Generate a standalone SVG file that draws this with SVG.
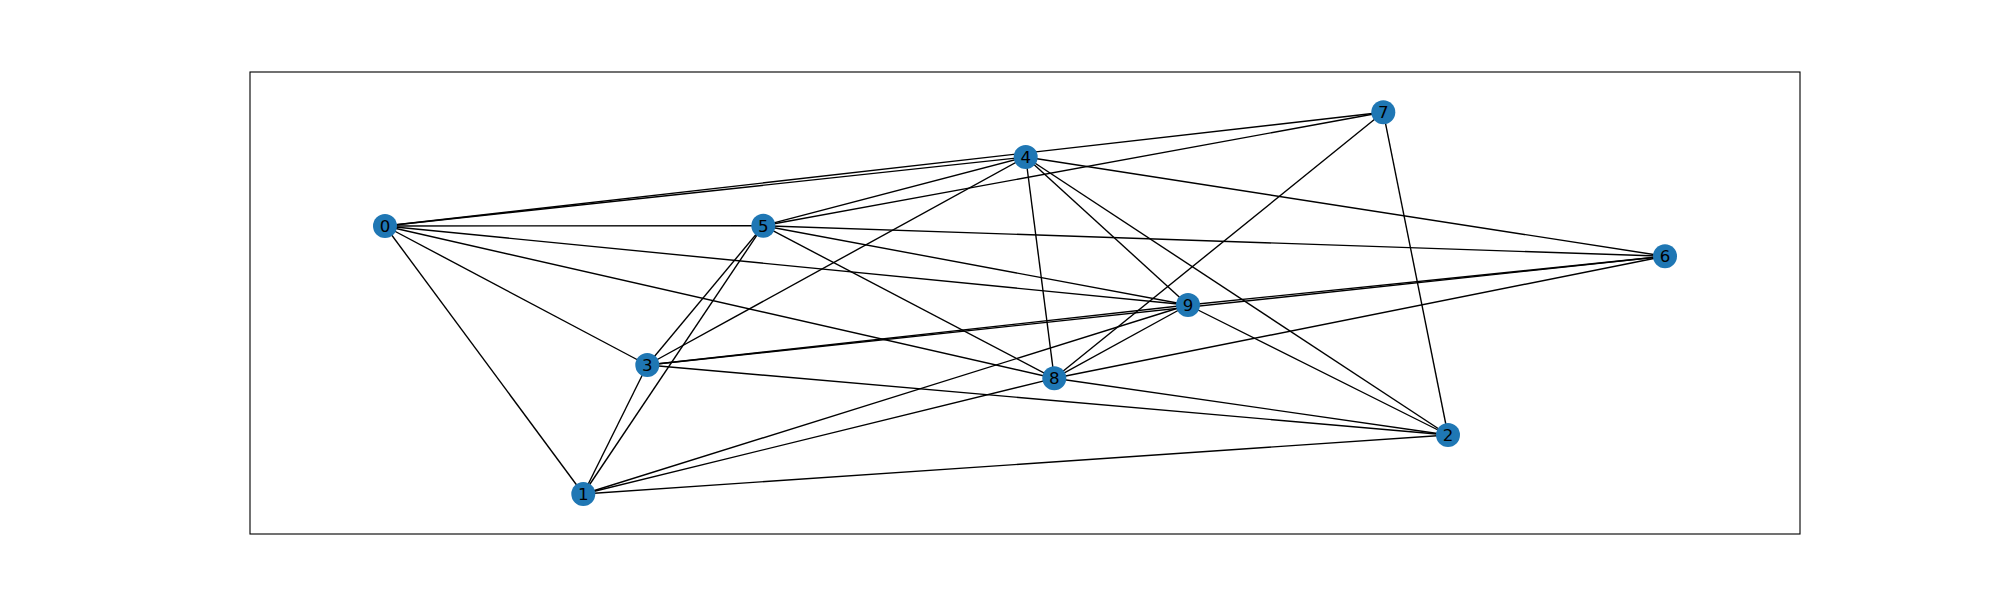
<svg xmlns="http://www.w3.org/2000/svg" width="2000" height="600" viewBox="0 0 2000 600">
<style>
.e{stroke:#000;stroke-width:1.39;fill:none}
.n circle{fill:#1f77b4}
.n text{font-family:"DejaVu Sans",sans-serif;font-size:16.67px;fill:#000;text-anchor:middle}
</style>
<rect x="0" y="0" width="2000" height="600" fill="#fff"/>
<rect x="250" y="72" width="1550" height="462" fill="none" stroke="#000" stroke-width="1.11"/>
<g id="edges">
<line class="e" x1="385" y1="226" x2="583.3" y2="494"/>
<line class="e" x1="385" y1="226" x2="647.3" y2="365"/>
<line class="e" x1="385" y1="226" x2="1025.7" y2="157"/>
<line class="e" x1="385" y1="226" x2="763.3" y2="225.7"/>
<line class="e" x1="385" y1="226" x2="1383.3" y2="112.3"/>
<line class="e" x1="385" y1="226" x2="1054.3" y2="378.3"/>
<line class="e" x1="385" y1="226" x2="1188" y2="305"/>
<line class="e" x1="583.3" y1="494" x2="1448" y2="435"/>
<line class="e" x1="583.3" y1="494" x2="647.3" y2="365"/>
<line class="e" x1="583.3" y1="494" x2="763.3" y2="225.7"/>
<line class="e" x1="583.3" y1="494" x2="1054.3" y2="378.3"/>
<line class="e" x1="583.3" y1="494" x2="1188" y2="305"/>
<line class="e" x1="1448" y1="435" x2="647.3" y2="365"/>
<line class="e" x1="1448" y1="435" x2="1025.7" y2="157"/>
<line class="e" x1="1448" y1="435" x2="1383.3" y2="112.3"/>
<line class="e" x1="1448" y1="435" x2="1054.3" y2="378.3"/>
<line class="e" x1="1448" y1="435" x2="1188" y2="305"/>
<line class="e" x1="647.3" y1="365" x2="1025.7" y2="157"/>
<line class="e" x1="647.3" y1="365" x2="763.3" y2="225.7"/>
<line class="e" x1="647.3" y1="365" x2="1665" y2="256.3"/>
<line class="e" x1="647.3" y1="365" x2="1188" y2="305"/>
<line class="e" x1="1025.7" y1="157" x2="763.3" y2="225.7"/>
<line class="e" x1="1025.7" y1="157" x2="1665" y2="256.3"/>
<line class="e" x1="1025.7" y1="157" x2="1054.3" y2="378.3"/>
<line class="e" x1="1025.7" y1="157" x2="1188" y2="305"/>
<line class="e" x1="763.3" y1="225.7" x2="1665" y2="256.3"/>
<line class="e" x1="763.3" y1="225.7" x2="1383.3" y2="112.3"/>
<line class="e" x1="763.3" y1="225.7" x2="1054.3" y2="378.3"/>
<line class="e" x1="763.3" y1="225.7" x2="1188" y2="305"/>
<line class="e" x1="1665" y1="256.3" x2="1054.3" y2="378.3"/>
<line class="e" x1="1665" y1="256.3" x2="1188" y2="305"/>
<line class="e" x1="1383.3" y1="112.3" x2="1054.3" y2="378.3"/>
<line class="e" x1="1054.3" y1="378.3" x2="1188" y2="305"/>
</g>
<g id="node0" class="n"><circle cx="385" cy="226" r="12"/><text x="385" y="232">0</text></g>
<g id="node1" class="n"><circle cx="583.3" cy="494" r="12"/><text x="583.3" y="500">1</text></g>
<g id="node2" class="n"><circle cx="1448" cy="435" r="12"/><text x="1448" y="441">2</text></g>
<g id="node3" class="n"><circle cx="647.3" cy="365" r="12"/><text x="647.3" y="371">3</text></g>
<g id="node4" class="n"><circle cx="1025.7" cy="157" r="12"/><text x="1025.7" y="163">4</text></g>
<g id="node5" class="n"><circle cx="763.3" cy="225.7" r="12"/><text x="763.3" y="231.7">5</text></g>
<g id="node6" class="n"><circle cx="1665" cy="256.3" r="12"/><text x="1665" y="262.3">6</text></g>
<g id="node7" class="n"><circle cx="1383.3" cy="112.3" r="12"/><text x="1383.3" y="118.3">7</text></g>
<g id="node8" class="n"><circle cx="1054.3" cy="378.3" r="12"/><text x="1054.3" y="384.3">8</text></g>
<g id="node9" class="n"><circle cx="1188" cy="305" r="12"/><text x="1188" y="311">9</text></g>
</svg>
